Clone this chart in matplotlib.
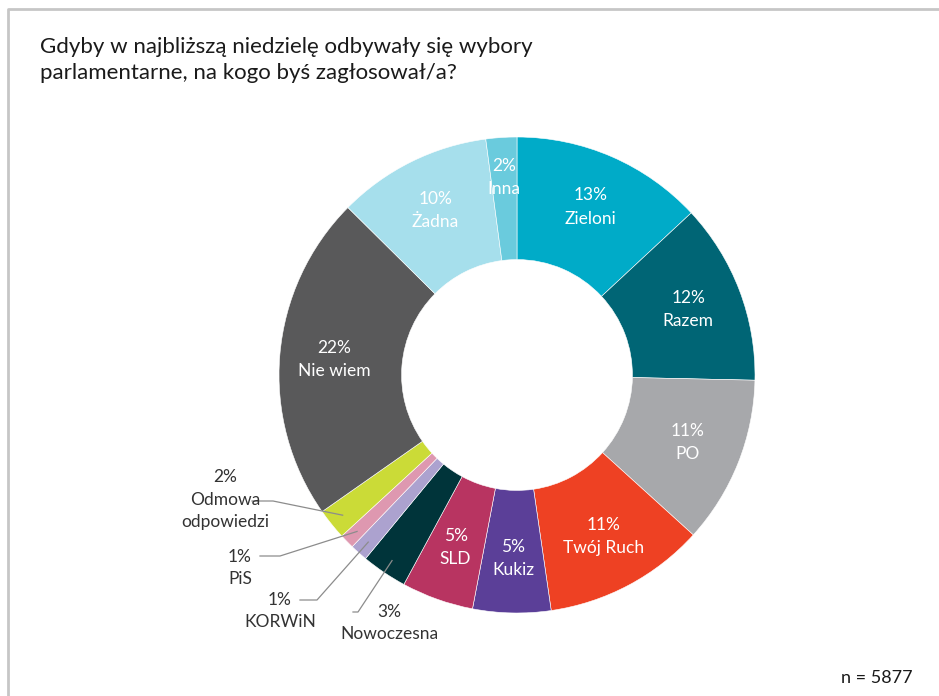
import numpy as np
import matplotlib.pyplot as plt

plt.rcParams['font.family'] = ['Lato', 'DejaVu Sans']

partie = ['Zieloni', 'Razem', 'PO', 'Twój Ruch', 'Kukiz', 'SLD', 'Nowoczesna',
          'KORWiN', 'PiS', 'Odmowa\nodpowiedzi', 'Nie wiem', 'Żadna', 'Inna']
wyniki = [13.1, 12.3, 11.4, 11.0, 5.3, 4.9, 3.1, 1.2, 1.0, 2.1, 22.2, 10.5, 2.1]
etykiety_proc = [13, 12, 11, 11, 5, 5, 3, 1, 1, 2, 22, 10, 2]
kolory = ['#00abc8', '#006575', '#a7a8ab', '#ee4123', '#5b3f98', '#b83461', '#00343a',
          '#aca2cf', '#de98b0', '#cbdb37', '#59595a', '#a6dfec', '#6acbdd']

fig = plt.figure(figsize=(9.39, 6.96), dpi=100)
ax = fig.add_axes([0, 0, 1, 1])

cx, cy, R = 517, 696 - 375, 238
wedges, _ = ax.pie(wyniki, colors=kolory, startangle=90, counterclock=False,
                   center=(cx, cy), radius=R,
                   wedgeprops=dict(width=R * 0.515, edgecolor='white', linewidth=0.4))
ax.set_xlim(0, 939)
ax.set_ylim(0, 696)
ax.set_aspect('auto')
ax.axis('off')

# ramka
ax.plot([8, 8, 939], [0, 687, 687], color='#c6c6c6', lw=2, solid_capstyle='butt')

fig.text(40 / 939, 1 - 60 / 696, 'Gdyby w najbliższą niedzielę odbywały się wybory\nparlamentarne, na kogo byś zagłosował/a?',
         fontsize=16, color='#1a1a1a', va='center', ha='left', linespacing=1.4)

zewn = {
    'Nowoczesna': ((389, 622), [(353, 612), (358, 612)]),
    'KORWiN': ((280, 611), [(300, 600), (317, 600)]),
    'PiS': ((240, 568), [(260, 556), (280, 556)]),
    'Odmowa\nodpowiedzi': ((225, 500), [(252, 501), (273, 501)]),
}

fs = 12.5
for w, nazwa, p in zip(wedges, partie, etykiety_proc):
    kat = np.deg2rad((w.theta1 + w.theta2) / 2)
    if nazwa in zewn:
        (tx, ty), linia = zewn[nazwa]
        px = cx + 0.94 * R * np.cos(kat)
        py = cy + 0.94 * R * np.sin(kat)
        xs = [q[0] for q in linia] + [px]
        ys = [696 - q[1] for q in linia] + [py]
        ax.plot(xs, ys, color='#8c8c8c', lw=0.9)
        if nazwa == 'Nowoczesna':
            ax.text(377, 696 - 612, f'{p}%', fontsize=fs, color='#333333', ha='left', va='center')
            ax.text(tx, 696 - 634, nazwa, fontsize=fs, color='#333333', ha='center', va='center')
        else:
            ax.text(tx, 696 - ty, f'{p}%\n{nazwa}', fontsize=fs, color='#333333',
                    ha='center', va='center', linespacing=1.5)
    else:
        r = 0.77 * R
        if nazwa == 'Inna':
            r = 0.83 * R
        ax.text(cx + r * np.cos(kat), cy + r * np.sin(kat), f'{p}%\n{nazwa}', fontsize=fs,
                color='white', ha='center', va='center', linespacing=1.55)

fig.text(913 / 939, 1 - 678 / 696, 'n = 5877', fontsize=13, color='#1a1a1a', ha='right', va='center')

fig.savefig('out.png', dpi=100)
